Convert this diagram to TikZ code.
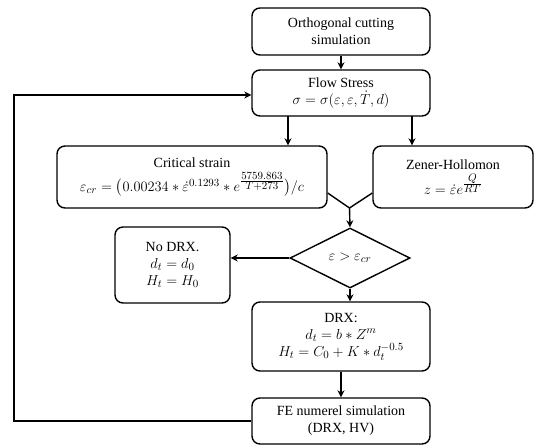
\documentclass[tikz,border=0pt]{standalone}
\usepackage{amsmath}
\usepackage{fontspec}
\setmainfont{Liberation Serif}
\usetikzlibrary{shapes.geometric,arrows.meta}
\newcommand{\mth}[1]{{\fontsize{15.5}{18}\selectfont$#1$}}
\begin{document}
\begin{tikzpicture}[x=1pt,y=-1pt,
  box/.style={draw, line width=1.4pt, rounded corners=8pt, align=center, inner sep=0pt,
    font=\fontsize{14}{17}\selectfont},
  dia/.style={draw, line width=1.4pt, diamond, inner sep=0pt, font=\fontsize{14}{17}\selectfont},
  arr/.style={line width=1.4pt, -{Stealth[length=7pt,width=7pt]}},
  ln/.style={line width=1.4pt}]
\useasboundingbox (0,0) rectangle (535,447);
\node[box, minimum width=178pt, minimum height=47pt] (orth) at (341,31.5) {Orthogonal cutting\\simulation};
\node[box, minimum width=178pt, minimum height=46pt] (flow) at (341,93) {Flow Stress\\\mth{\sigma=\sigma(\varepsilon,\varepsilon,\dot{T},d)}};
\node[box, minimum width=270pt, minimum height=62pt] (crit) at (192,177) {Critical strain\\[4pt]\mth{\varepsilon_{cr}=\bigl(0.00234\ast\dot{\varepsilon}^{0.1293}\ast e^{\frac{\scriptstyle 5759.863}{\scriptstyle T+273}}\bigr)/c}};
\node[box, minimum width=160pt, minimum height=62pt] (zen) at (453,177) {Zener-Hollomon\\[4pt]\mth{z=\dot{\varepsilon}e^{\frac{\scriptstyle Q}{\scriptstyle RT}}}};
\node[dia, minimum width=120pt, minimum height=60pt] (dec) at (350,258) {\mth{\varepsilon>\varepsilon_{cr}}};
\node[box, minimum width=115pt, minimum height=76pt] (nodrx) at (172.5,265) {No DRX.\\\mth{d_t=d_0}\\\mth{H_t=H_0}};
\node[box, minimum width=178pt, minimum height=69pt] (drx) at (341,336.5) {DRX:\\\mth{d_t=b\ast Z^m}\\\mth{H_t=C_0+K\ast d_t^{-0.5}}};
\node[box, minimum width=178pt, minimum height=46pt] (fe) at (341,421) {FE numerel simulation\\(DRX, HV)};
\coordinate (j) at (349.5,208);
\coordinate (cl) at (288,116);
\coordinate (cr) at (412,116);
\coordinate (fbb) at (14,421);
\coordinate (fbt) at (14,95);
\draw[arr] (orth) -- (flow);
\draw[arr] (cl) -- (cl |- crit.north);
\draw[arr] (cr) -- (cr |- zen.north);
\draw[ln] (crit.east |- 0,193) -- (j) -- (zen.west |- 0,193);
\draw[arr] (j) -- (dec.north);
\draw[arr] (dec.west) -- (nodrx.east |- dec.west);
\draw[arr] (dec.south) -- (dec.south |- drx.north);
\draw[arr] (drx) -- (fe);
\draw[arr] (fe.west) -- (fbb) -- (fbt) -- (flow.west |- fbt);
\end{tikzpicture}
\end{document}
